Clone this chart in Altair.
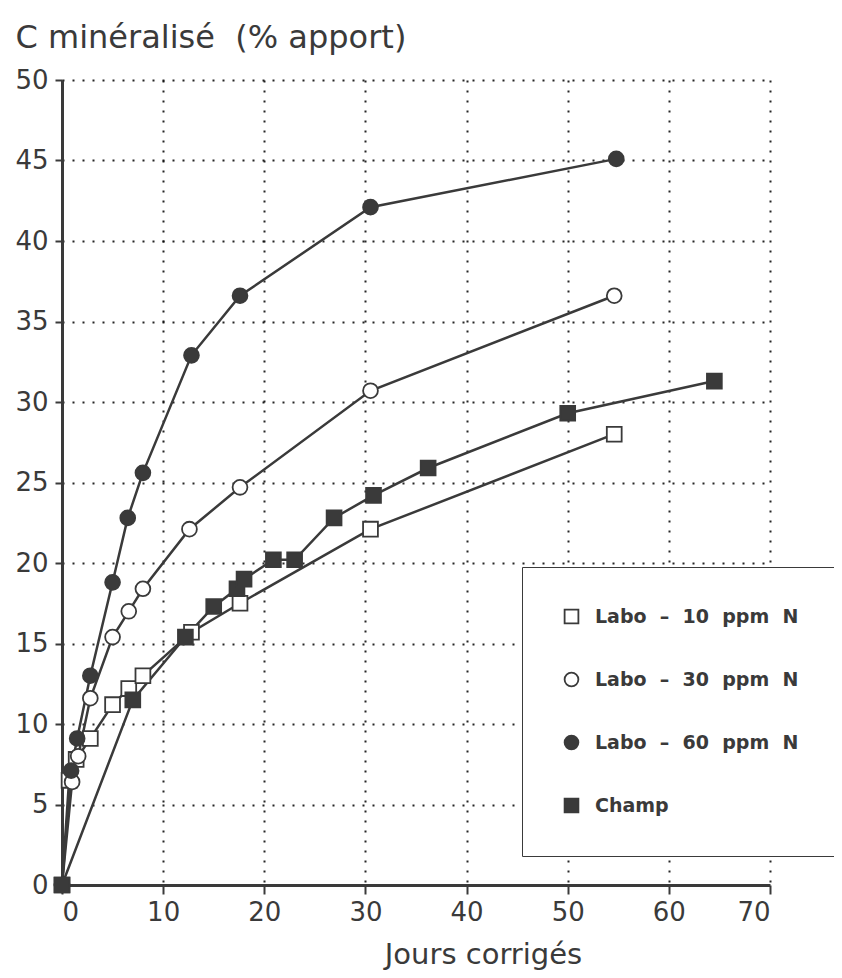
import altair as alt
import pandas as pd

# --- data ---
labo10_x = [0, 0.7, 1.4, 2.8, 5.0, 6.6, 8.0, 12.8, 17.6, 30.5, 54.6]
labo10_y = [0, 6.5, 7.8, 9.1, 11.2, 12.2, 13.0, 15.7, 17.5, 22.1, 28.0]

labo30_x = [0, 1.0, 1.6, 2.8, 5.0, 6.6, 8.0, 12.6, 17.6, 30.5, 54.6]
labo30_y = [0, 6.4, 8.0, 11.6, 15.4, 17.0, 18.4, 22.1, 24.7, 30.7, 36.6]

labo60_x = [0, 0.9, 1.5, 2.8, 5.0, 6.5, 8.0, 12.8, 17.6, 30.5, 54.8]
labo60_y = [0, 7.1, 9.1, 13.0, 18.8, 22.8, 25.6, 32.9, 36.6, 42.1, 45.1]

champ_x = [0, 7.0, 12.2, 15.0, 17.3, 18.0, 20.9, 23.0, 26.9, 30.8, 36.2, 50.0, 64.5]
champ_y = [0, 11.5, 15.4, 17.3, 18.4, 19.0, 20.2, 20.2, 22.8, 24.2, 25.9, 29.3, 31.3]

NB = "\u00a0"
series_names = [
    f"Labo{NB*2}–{NB*2}10{NB*2}ppm{NB*2}N",
    f"Labo{NB*2}–{NB*2}30{NB*2}ppm{NB*2}N",
    f"Labo{NB*2}–{NB*2}60{NB*2}ppm{NB*2}N",
    "Champ",
]
series_shapes = ["square", "circle", "circle", "square"]
series_fills = ["white", "white", "#3a3a3a", "#3a3a3a"]

rows = []
for name, xs, ys in zip(series_names,
                        [labo10_x, labo30_x, labo60_x, champ_x],
                        [labo10_y, labo30_y, labo60_y, champ_y]):
    for i, (x, y) in enumerate(zip(xs, ys)):
        rows.append({"serie": name, "jours": x, "c": y, "ordre": i})
df = pd.DataFrame(rows)

INK = "#3a3a3a"
FONT = "DejaVu Sans"

xscale = alt.Scale(domain=[0, 70], nice=False, zero=True)
yscale = alt.Scale(domain=[0, 50], nice=False, zero=True)

xaxis = alt.Axis(
    values=list(range(0, 71, 10)), title="Jours corrigés",
    grid=True, gridDash=[2, 8], gridColor="#000000", gridWidth=2, gridOpacity=0.85,
    domainColor=INK, domainWidth=3, tickColor=INK, tickWidth=2, tickSize=9,
    labelFont=FONT, labelFontSize=26, labelColor=INK, labelPadding=5,
    titleFont=FONT, titleFontSize=29, titleFontWeight="normal", titleColor=INK,
    titleX=421, titleY=78, titleBaseline="alphabetic", titleAnchor="start", titleAlign="center",
)
yaxis = alt.Axis(
    values=list(range(0, 51, 5)), title=f"C minéralisé{NB*2}(% apport)",
    grid=True, gridDash=[2, 8], gridColor="#000000", gridWidth=2, gridOpacity=0.85,
    domainColor=INK, domainWidth=3, tickColor=INK, tickWidth=2, tickSize=7,
    labelFont=FONT, labelFontSize=26, labelColor=INK, labelPadding=7,
    titleFont=FONT, titleFontSize=32, titleFontWeight="normal", titleColor=INK,
    titleAngle=0, titleX=-47, titleY=-33, titleAlign="left", titleBaseline="alphabetic",
    titleAnchor="start",
)

base = alt.Chart(df)

lines = base.mark_line(color=INK, strokeWidth=2.5).encode(
    x=alt.X("jours:Q", scale=xscale, axis=xaxis),
    y=alt.Y("c:Q", scale=yscale, axis=yaxis),
    detail="serie:N",
    order="ordre:Q",
)

legend = alt.Legend(
    title=None, orient="none", legendX=460, legendY=487,
    padding=40, rowPadding=42, symbolSize=190, symbolStrokeColor=INK,
    symbolStrokeWidth=1.8, labelFont=FONT, labelFontSize=19, labelFontWeight="bold",
    labelColor=INK, labelOffset=14, labelLimit=400,
    fillColor="white", strokeColor=INK,
)

points = base.mark_point(filled=True, strokeWidth=1.8, opacity=1, size=220).encode(
    x="jours:Q",
    y="c:Q",
    shape=alt.Shape("serie:N", scale=alt.Scale(domain=series_names, range=series_shapes), legend=legend),
    fill=alt.Fill("serie:N", scale=alt.Scale(domain=series_names, range=series_fills), legend=legend),
    stroke=alt.Stroke("serie:N", scale=alt.Scale(domain=series_names, range=[INK] * 4), legend=legend),
)

chart = alt.layer(lines, points).properties(
    width=708, height=805,
    autosize=alt.AutoSizeParams(type="none"),
    padding={"left": 54, "top": 72, "right": 64, "bottom": 92},
    background="white",
).configure_view(stroke=None)

chart.save("out.html", embed_options={"renderer": "svg", "actions": False})
